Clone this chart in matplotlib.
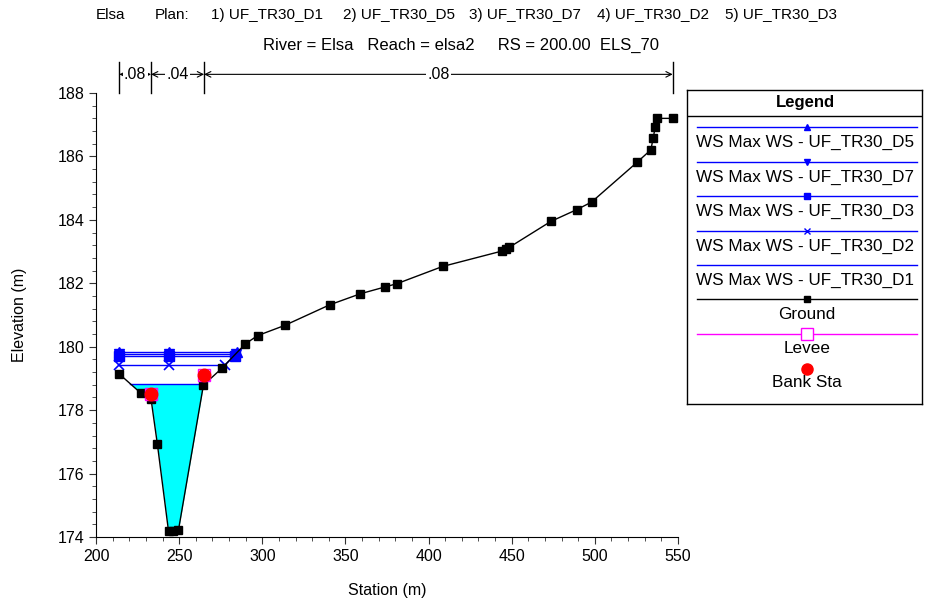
import matplotlib
matplotlib.use('Agg')
import matplotlib.pyplot as plt
from matplotlib.ticker import MultipleLocator
import numpy as np

plt.rcParams['font.family'] = ['Liberation Sans', 'DejaVu Sans']

# ground profile
ground_sta = [214.0, 227.1, 233.1, 236.9, 243.6, 246.5, 249.6, 264.6, 275.7,
              289.8, 297.2, 313.4, 340.5, 359.0, 373.5, 381.1, 408.4, 444.4,
              446.4, 448.4, 473.5, 489.0, 498.0, 525.5, 533.7, 535.1, 536.3,
              537.3, 546.8]
ground_elev = [179.14, 178.53, 178.35, 176.93, 174.19, 174.20, 174.22, 178.79,
               179.32, 180.09, 180.35, 180.67, 181.32, 181.67, 181.88, 181.99,
               182.53, 183.02, 183.07, 183.13, 183.95, 184.32, 184.56, 185.82,
               186.21, 186.59, 186.92, 187.20, 187.20]

# max water surfaces per plan
ws_names = ['UF_TR30_D5', 'UF_TR30_D7', 'UF_TR30_D3', 'UF_TR30_D2', 'UF_TR30_D1']
ws_elev = [179.82, 179.77, 179.70, 179.43, 178.84]
ws_sta = [[214.0, 243.6, 284.6], [214.0, 243.6, 284.3], [214.0, 243.6, 283.7],
          [214.0, 243.6, 277.5], [220.4, 265.6]]
ws_markers = ['^', 'v', 's', 'x', None]

bank_sta = [233.1, 265.0]
bank_elev = [178.50, 179.10]

# Manning's n
n_breaks = [214.0, 233.1, 265.0, 546.8]
n_vals = ['.08', '.04', '.08']

plans = ['1) UF_TR30_D1', '2) UF_TR30_D5', '3) UF_TR30_D7', '4) UF_TR30_D2', '5) UF_TR30_D3']

W, H = 932, 603
fig = plt.figure(figsize=(W / 100, H / 100), dpi=100)
ax = fig.add_axes([96 / W, 1 - 537 / H, (678 - 96) / W, (537 - 93) / H])

# cyan fill for D1
xs = np.linspace(ws_sta[4][0], ws_sta[4][-1], 400)
gi = np.interp(xs, ground_sta, ground_elev)
ax.fill_between(xs, gi, ws_elev[4], where=gi <= ws_elev[4], color='#00FFFF', lw=0, zorder=1)

for sta, el, mk in zip(ws_sta, ws_elev, ws_markers):
    ax.plot(sta, [el] * len(sta), color='#0000FF', lw=1, marker=mk, ms=7,
            mew=1.2 if mk == 'x' else 1, zorder=3)

ax.plot(ground_sta, ground_elev, color='black', lw=1, marker='s', ms=6, zorder=4)
ax.plot(bank_sta, bank_elev, 's', ms=9, mfc='none', mec='#FF00FF', mew=1, zorder=5)
ax.plot(bank_sta, bank_elev, 'o', ms=9, color='#FF0000', zorder=6)

ax.set_xlim(200, 550)
ax.set_ylim(174, 188)
ax.xaxis.set_major_locator(MultipleLocator(50))
ax.xaxis.set_minor_locator(MultipleLocator(10))
ax.yaxis.set_major_locator(MultipleLocator(2))
ax.yaxis.set_minor_locator(MultipleLocator(0.4))
ax.tick_params(which='both', direction='out', labelsize=11.5, color='#333333')
ax.tick_params(which='major', length=5)
ax.tick_params(which='minor', length=3)
for s in ['top', 'right']:
    ax.spines[s].set_visible(False)
ax.set_xlabel('Station (m)', fontsize=11.5, labelpad=14)
ax.set_ylabel('Elevation (m)', fontsize=11.5, labelpad=22)

# roughness bar above plot
tr = ax.get_xaxis_transform()
for x in n_breaks:
    ax.plot([x, x], [1.0, 1.07], transform=tr, color='black', lw=1, clip_on=False)
for i, lab in enumerate(n_vals):
    a, b = n_breaks[i], n_breaks[i + 1]
    ax.annotate('', xy=(a, 1.042), xytext=(b, 1.042), xycoords=tr, textcoords=tr,
                arrowprops=dict(arrowstyle='<->', lw=0.8, color='black', shrinkA=0, shrinkB=0))
    ax.text((a + b) / 2, 1.042, lab, transform=tr, ha='center', va='center', fontsize=11.5,
            bbox=dict(facecolor='white', edgecolor='none', pad=1))

# header texts
fig.text(96 / W, 1 - 15 / H, 'Elsa', fontsize=11, va='center')
fig.text(155 / W, 1 - 15 / H, 'Plan:', fontsize=11, va='center')
for px, p in zip([211, 343, 469, 597, 725], plans):
    fig.text(px / W, 1 - 15 / H, p, fontsize=11, va='center')
fig.text(461 / W, 1 - 45 / H, 'River = Elsa   Reach = elsa2     RS = 200.00  ELS_70',
         fontsize=12, va='center', ha='center')

# legend box
lg = fig.add_axes([687 / W, 1 - 404 / H, 235 / W, 314 / H])
lg.set_xlim(687, 922)
lg.set_ylim(404, 90)
lg.set_xticks([])
lg.set_yticks([])
for s in lg.spines.values():
    s.set_linewidth(1)
lg.text(805, 103, 'Legend', ha='center', va='center', fontsize=12, fontweight='bold')
lg.plot([687, 922], [116, 116], color='black', lw=1)
x0, x1, xm = 697, 917, 807
rows_y = [127, 162, 196, 231, 265]
for y, name, mk in zip(rows_y, ws_names, ws_markers):
    lg.plot([x0, x1], [y, y], color='#0000FF', lw=1)
    if mk:
        lg.plot([xm], [y], marker=mk, color='#0000FF', ms=5, mew=1)
    lg.text(x0 - 1, y + 15, 'WS Max WS - ' + name, ha='left', va='center', fontsize=12.3)
lg.plot([x0, x1], [299, 299], color='black', lw=1)
lg.plot([xm], [299], 's', color='black', ms=5)
lg.text(xm, 315, 'Ground', ha='center', va='center', fontsize=12.3)
lg.plot([x0, x1], [334, 334], color='#FF00FF', lw=1)
lg.plot([xm], [334], 's', mfc='white', mec='#FF00FF', ms=8, mew=1)
lg.text(xm, 349, 'Levee', ha='center', va='center', fontsize=12.3)
lg.plot([xm], [369], 'o', color='#FF0000', ms=8)
lg.text(xm, 383, 'Bank Sta', ha='center', va='center', fontsize=12.3)

fig.savefig('out.png', dpi=100)
